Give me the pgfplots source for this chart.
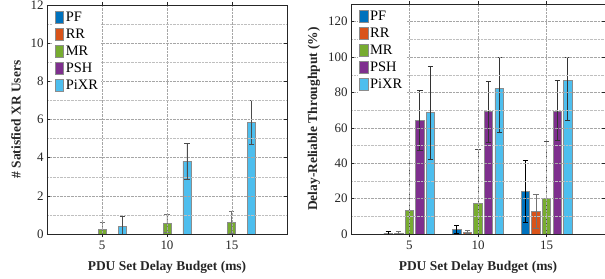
\documentclass[border=0pt]{standalone}
\usepackage{pgfplots}
\pgfplotsset{compat=1.18}
\usepackage{fontspec}
\setmainfont{Liberation Serif}
\definecolor{cPF}{rgb}{0,0.447,0.741}
\definecolor{cRR}{rgb}{0.85,0.325,0.098}
\definecolor{cMR}{rgb}{0.466,0.674,0.188}
\definecolor{cPSH}{rgb}{0.494,0.184,0.556}
\definecolor{cPiXR}{rgb}{0.301,0.745,0.933}
\definecolor{axc}{rgb}{0.15,0.15,0.15}
\pgfplotsset{
  mystyle/.style={
    scale only axis,
    axis on top,
    ybar, bar width=0.123, bar shift=0pt,
    xmin=0.15, xmax=3.85, ymin=0,
    xtick={1,2,3}, xticklabels={5,10,15},
    grid=both,
    minor y tick num=1,
    major grid style={densely dotted, black!35},
    minor grid style={densely dotted, black!25},
    axis line style={axc, line width=0.6pt},
    major tick length=3bp, minor tick length=0pt,
    tick style={axc, line width=0.5pt},
    tick label style={font=\fontsize{13}{14}\selectfont, text=axc},
    /pgf/number format/assume math mode=true,
    xlabel={PDU Set Delay Budget (ms)},
    x label style={at={(axis description cs:0.5,-0.145)}, anchor=center, font=\fontsize{13.5}{14}\selectfont\bfseries, text=axc},
    y label style={font=\fontsize{13.5}{14}\selectfont\bfseries, text=axc},
    legend style={at={(axis description cs:0.025,0.985)}, anchor=north west, draw=none, fill=white,
      font=\fontsize{14.5}{15}\selectfont, row sep=2bp, inner sep=1.5bp},
    legend cell align=left,
    legend image code/.code={\draw[##1, draw=black!45, line width=0.6pt] (0bp,-6bp) rectangle (8.5bp,6bp);},
    every axis plot/.append style={draw=black!45, line width=0.8pt},
    error bars/y dir=both, error bars/y explicit,
    error bars/error mark options={rotate=90, mark size=2.6bp, line width=1pt},
  },
}
\begin{document}
\begin{tikzpicture}
\path[use as bounding box] (-47bp,-45bp) rectangle (558bp,234bp);
\begin{axis}[mystyle, at={(0bp,0bp)}, anchor=south west, width=240bp, height=229bp,
  ymax=12, ytick={0,2,...,12},
  ylabel={\# Satisfied XR Users},
  y label style={at={(axis description cs:-0.129,0.5)}, anchor=center}]
\addplot[fill=cPF] coordinates {(0.692,0) (1.692,0) (2.692,0)};
\addplot[fill=cRR] coordinates {(0.846,0) (1.846,0) (2.846,0)};
\addplot[fill=cMR, error bars/error bar style={black!55, line width=0.9pt}] coordinates {
  (1,0.25) += (0,0.36) -= (0,0.25)
  (2,0.56) += (0,0.46) -= (0,0.46)
  (3,0.61) += (0,0.57) -= (0,0.57)};
\addplot[fill=cPSH] coordinates {(1.154,0) (2.154,0) (3.154,0)};
\addplot[fill=cPiXR, error bars/error bar style={black!70, line width=0.9pt}] coordinates {
  (1.308,0.39) += (0,0.52) -= (0,0.39)
  (2.308,3.82) += (0,0.93) -= (0,0.94)
  (3.308,5.86) += (0,1.16) -= (0,1.16)};
\legend{PF,RR,MR,PSH,PiXR}
\end{axis}
\begin{axis}[mystyle, at={(304bp,0bp)}, anchor=south west, width=254bp, height=230bp,
  ymax=130, ytick={0,20,...,120}, minor y tick num=1,
  ylabel={Delay-Reliable Throughput (\%)},
  y label style={at={(axis description cs:-0.146,0.5)}, anchor=center}]
\addplot[fill=cPF, error bars/error bar style={black, line width=0.9pt}] coordinates {
  (0.692,0.5) += (0,1.0) -= (0,0.5)
  (1.692,2.4) += (0,2.2) -= (0,1.9)
  (2.692,24.1) += (0,17.2) -= (0,17.4)};
\addplot[fill=cRR, error bars/error bar style={black!55, line width=0.9pt}] coordinates {
  (0.846,0.5) += (0,1.0) -= (0,0.5)
  (1.846,1.0) += (0,0.8) -= (0,0.8)
  (2.846,12.7) += (0,9.6) -= (0,9.8)};
\addplot[fill=cMR, error bars/error bar style={black!70, densely dashed, line width=0.8pt}] coordinates {
  (1,13.1) += (0,26.7) -= (0,13.1)
  (2,17.4) += (0,30.3) -= (0,17.4)
  (3,20.2) += (0,32.0) -= (0,20.2)};
\addplot[fill=cPSH, error bars/error bar style={black!80, line width=0.9pt}] coordinates {
  (1.154,64.0) += (0,17.0) -= (0,17.0)
  (2.154,69.1) += (0,17.3) -= (0,17.1)
  (3.154,69.5) += (0,17.1) -= (0,16.9)};
\addplot[fill=cPiXR, error bars/error bar style={black!80, line width=0.9pt}] coordinates {
  (1.308,68.5) += (0,26.4) -= (0,26.3)
  (2.308,82.1) += (0,17.6) -= (0,25.0)
  (3.308,87.0) += (0,12.7) -= (0,22.8)};
\legend{PF,RR,MR,PSH,PiXR}
\end{axis}
\end{tikzpicture}
\end{document}
